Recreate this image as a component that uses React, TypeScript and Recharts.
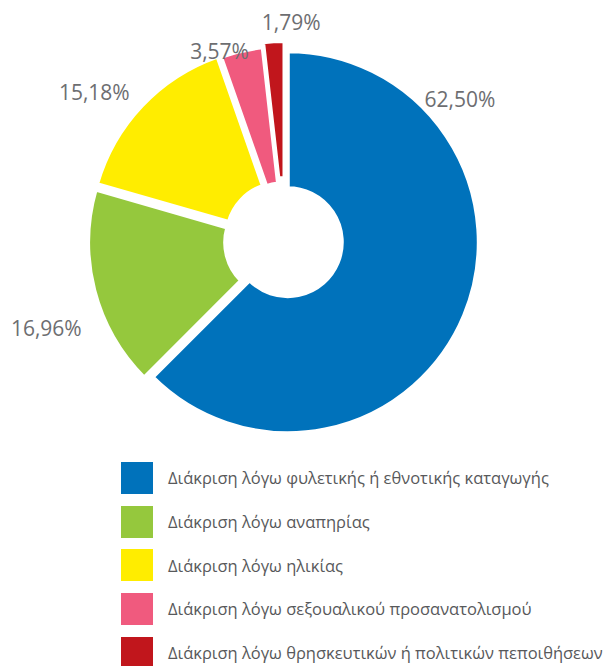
import React from 'react';
import { PieChart, Pie, Cell, Legend } from 'recharts';

const categories = [
  'Διάκριση λόγω φυλετικής ή εθνοτικής καταγωγής',
  'Διάκριση λόγω αναπηρίας',
  'Διάκριση λόγω ηλικίας',
  'Διάκριση λόγω σεξουαλικού προσανατολισμού',
  'Διάκριση λόγω θρησκευτικών ή πολιτικών πεποιθήσεων',
];
const shares = [62.5, 16.96, 15.18, 3.57, 1.79];
const shareLabels = ['62,50%', '16,96%', '15,18%', '3,57%', '1,79%'];

// styling
const COLORS = ['#0072bb', '#95c83d', '#ffed00', '#f05a7e', '#c1161c'];
const EXPLODE = [3, 6, 6, 4, 9];
const LABEL_SPOTS = [
  { angle: 39, radius: 225 },
  { angle: 200, radius: 254 },
  { angle: 142, radius: 242 },
  { angle: 109, radius: 201 },
  { angle: 88.4, radius: 219 },
];

const CX = 285;
const CY = 241;
const OUTER = 191;
const INNER = 54;
const GAP = 4;
const RAD = Math.PI / 180;

const data = categories.map((name, i) => ({ name, value: shares[i] }));
const total = shares.reduce((a, b) => a + b, 0);

// middle angle of each slice, going clockwise from 12 o'clock
const midAngles = shares.map((v, i) => {
  const before = shares.slice(0, i).reduce((a, b) => a + b, 0);
  return 90 - ((before + v / 2) / total) * 360;
});

const renderLabel = (k: number) => (props: any) => {
  if (props.index !== k) return null;
  const spot = LABEL_SPOTS[k];
  const x = CX + spot.radius * Math.cos(spot.angle * RAD);
  const y = CY - spot.radius * Math.sin(spot.angle * RAD);
  return (
    <text
      x={x}
      y={y}
      textAnchor="middle"
      dominantBaseline="central"
      fill="#6d6e71"
      fontFamily="Open Sans"
      fontSize={21}
    >
      {shareLabels[k]}
    </text>
  );
};

const LegendList = () => (
  <ul style={{ listStyle: 'none', margin: 0, padding: 0 }}>
    {categories.map((c, i) => (
      <li key={c} style={{ display: 'flex', alignItems: 'center', height: 43.7 }}>
        <span
          style={{ width: 32, height: 32, background: COLORS[i], marginRight: 15, flex: 'none' }}
        />
        <span
          style={{ fontFamily: 'Open Sans', fontSize: 16.5, color: '#58595b', whiteSpace: 'nowrap' }}
        >
          {c}
        </span>
      </li>
    ))}
  </ul>
);

const App = () => (
  <div style={{ position: 'absolute', left: 0, top: 0, width: 606, height: 666, background: '#fff' }}>
    <PieChart width={606} height={666} margin={{ top: 0, right: 0, bottom: 0, left: 0 }}>
      {data.map((_, k) => (
        <Pie
          key={k}
          data={data}
          dataKey="value"
          nameKey="name"
          cx={CX + EXPLODE[k] * Math.cos(midAngles[k] * RAD)}
          cy={CY - EXPLODE[k] * Math.sin(midAngles[k] * RAD)}
          innerRadius={INNER}
          outerRadius={OUTER}
          startAngle={90}
          endAngle={-270}
          legendType="none"
          labelLine={false}
          label={renderLabel(k)}
          isAnimationActive={false}
        >
          {data.map((d, i) => (
            <Cell
              key={d.name}
              fill={i === k ? COLORS[i] : 'none'}
              stroke={i === k ? '#fff' : 'none'}
              strokeWidth={GAP}
            />
          ))}
        </Pie>
      ))}
      <Legend
        content={() => <LegendList />}
        verticalAlign="bottom"
        wrapperStyle={{ left: 121, top: 456, bottom: 'auto', width: 485 }}
      />
    </PieChart>
  </div>
);

export default App;
